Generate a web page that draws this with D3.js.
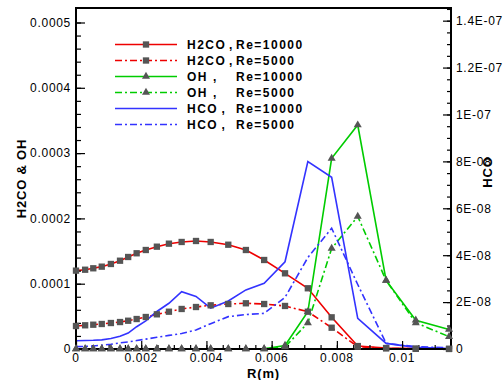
<!DOCTYPE html>
<html>
<head>
<meta charset="utf-8">
<script src="https://cdn.jsdelivr.net/npm/d3@7"></script>
<style>
  body { margin: 0; background: #fff; }
  svg { display: block; font-family: "Liberation Sans", Arial, sans-serif; }
  .tick-label { font-size: 12px; letter-spacing: 0.7px; fill: #000; }
  .title { font-size: 13px; font-weight: bold; fill: #000; letter-spacing: 0.8px; }
  .legend-text { font-size: 12px; font-weight: bold; letter-spacing: 1.5px; fill: #000; }
</style>
</head>
<body>
<div id="chart"></div>
<script>
// radial grid points (m)
const rGrid = [0, 0.00028, 0.00053, 0.00079, 0.00107, 0.00135, 0.0016, 0.00186,
  0.00214, 0.00248, 0.00285, 0.00324, 0.00368, 0.00413, 0.00467, 0.00521,
  0.00577, 0.00641, 0.00711, 0.00784, 0.00864, 0.00951, 0.01042, 0.01144];

const h2co10000 = [1.20e-4, 1.214e-4, 1.236e-4, 1.261e-4, 1.302e-4, 1.352e-4, 1.409e-4, 1.466e-4,
  1.516e-4, 1.567e-4, 1.613e-4, 1.639e-4, 1.654e-4, 1.639e-4, 1.597e-4, 1.516e-4,
  1.363e-4, 1.159e-4, 9.30e-5, 4.85e-5, 4.5e-6, 1.5e-6, 5e-7, 2e-7];
const h2co5000 = [3.52e-5, 3.63e-5, 3.72e-5, 3.83e-5, 3.98e-5, 4.13e-5, 4.33e-5, 4.59e-5,
  4.90e-5, 5.31e-5, 5.71e-5, 6.13e-5, 6.43e-5, 6.69e-5, 6.89e-5, 7.00e-5,
  6.89e-5, 6.59e-5, 5.71e-5, 3.26e-5, 3.5e-6, 1e-6, 3e-7, 1e-7];
const oh10000 = [0, 0, 0, 0, 0, 0, 0, 0, 0, 0, 0, 0, 0, 0, 0, 0,
  2e-7, 5.4e-6, 5.7e-5, 2.92e-4, 3.43e-4, 1.05e-4, 4.4e-5, 3.0e-5];
const oh5000 = [0, 0, 0, 0, 0, 0, 0, 0, 0, 0, 0, 0, 0, 0, 0, 0,
  0, 3e-6, 4.0e-5, 1.54e-4, 2.03e-4, 1.05e-4, 4.0e-5, 1.9e-5];
const hco10000 = [3.5e-9, 3.6e-9, 3.7e-9, 3.9e-9, 4.5e-9, 5.4e-9, 6.8e-9, 9.5e-9,
  1.2e-8, 1.6e-8, 1.95e-8, 2.44e-8, 2.24e-8, 1.74e-8, 2.05e-8, 2.52e-8,
  2.80e-8, 3.72e-8, 7.99e-8, 7.32e-8, 1.31e-8, 2.4e-9, 7e-10, 2e-10];
const hco5000 = [1.0e-9, 1.1e-9, 1.3e-9, 1.6e-9, 2.0e-9, 2.6e-9, 3.0e-9, 3.6e-9,
  4.2e-9, 5.0e-9, 5.8e-9, 6.6e-9, 8.1e-9, 1.08e-8, 1.38e-8, 1.47e-8,
  1.52e-8, 2.2e-8, 3.9e-8, 5.15e-8, 2.75e-8, 2.4e-9, 1.0e-9, 5e-10];

const leftTicks = [0, 0.0001, 0.0002, 0.0003, 0.0004, 0.0005];
const leftTickLabels = ["0", "0.0001", "0.0002", "0.0003", "0.0004", "0.0005"];
const rightTicks = [0, 2e-8, 4e-8, 6e-8, 8e-8, 1e-7, 1.2e-7, 1.4e-7];
const rightTickLabels = ["0", "2E-08", "4E-08", "6E-08", "8E-08", "1E-07", "1.2E-07", "1.4E-07"];
const xTicks = [0, 0.002, 0.004, 0.006, 0.008, 0.01];
const xTickLabels = ["0", "0.002", "0.004", "0.006", "0.008", "0.01"];

const series = [
  { name: "H2CO", re: "Re=10000", values: h2co10000, axis: "left", color: "#ee0000", dash: null, marker: "square" },
  { name: "H2CO", re: "Re=5000", values: h2co5000, axis: "left", color: "#ee0000", dash: "7,3,2,3", marker: "square" },
  { name: "OH", re: "Re=10000", values: oh10000, axis: "left", color: "#00cc00", dash: null, marker: "triangle" },
  { name: "OH", re: "Re=5000", values: oh5000, axis: "left", color: "#00cc00", dash: "7,3,2,3", marker: "triangle" },
  { name: "HCO", re: "Re=10000", values: hco10000, axis: "right", color: "#3333ff", dash: null, marker: null },
  { name: "HCO", re: "Re=5000", values: hco5000, axis: "right", color: "#3333ff", dash: "7,3,2,3", marker: null }
];
// where the comma after each species name sits in the legend
const commaX = { H2CO: 229, OH: 213, HCO: 221.5 };

const W = 504, H = 380;
const margin = { top: 8, right: 53, bottom: 31, left: 76 };
const width = W - margin.left - margin.right;
const height = H - margin.top - margin.bottom;

const svg = d3.select("#chart").append("svg")
  .attr("width", W)
  .attr("height", H);

const g = svg.append("g")
  .attr("transform", `translate(${margin.left},${margin.top})`);

const x = d3.scaleLinear().domain([0, 0.0115]).range([0, width]);
const yL = d3.scaleLinear().domain([0, 0.0005222]).range([height, 0]);
const yR = d3.scaleLinear().domain([0, 1.454e-7]).range([height, 0]);

// data lines
series.forEach(s => {
  const yScale = s.axis === "left" ? yL : yR;
  const pts = rGrid.map((r, i) => ({ x: r, y: s.values[i] }));
  g.append("path")
    .datum(pts)
    .attr("fill", "none")
    .attr("stroke", s.color)
    .attr("stroke-width", 1.6)
    .attr("stroke-dasharray", s.dash)
    .attr("d", d3.line().x(d => x(d.x)).y(d => yScale(d.y)));
});

// axes (ticks pointing inward)
g.append("g").attr("transform", `translate(0,${height})`)
  .call(d3.axisTop(x).tickValues(d3.range(0, 0.01151, 0.0005)).tickSize(4).tickFormat(""));
g.append("g").attr("transform", `translate(0,${height})`)
  .call(d3.axisTop(x).tickValues(xTicks).tickSize(8).tickFormat(""));
g.append("g")
  .call(d3.axisRight(yL).tickValues(d3.range(0, 0.00052, 0.00002)).tickSize(5).tickFormat(""));
g.append("g")
  .call(d3.axisRight(yL).tickValues(leftTicks).tickSize(9).tickFormat(""));
g.append("g").attr("transform", `translate(${width},0)`)
  .call(d3.axisLeft(yR).tickValues(d3.range(0, 1.451e-7, 5e-9)).tickSize(4).tickFormat(""));
g.append("g").attr("transform", `translate(${width},0)`)
  .call(d3.axisLeft(yR).tickValues(rightTicks).tickSize(8).tickFormat(""));
g.selectAll(".domain").remove();
g.selectAll(".tick line").attr("stroke", "#000").attr("stroke-width", 1.2);

// frame
g.append("rect")
  .attr("x", 0).attr("y", 0)
  .attr("width", width).attr("height", height)
  .attr("fill", "none")
  .attr("stroke", "#000")
  .attr("stroke-width", 2);

// tick labels
g.selectAll(".lt").data(leftTicks).enter().append("text")
  .attr("class", "tick-label")
  .attr("x", -5)
  .attr("y", d => yL(d))
  .attr("dy", "0.36em")
  .attr("text-anchor", "end")
  .text((d, i) => leftTickLabels[i]);
g.selectAll(".rt").data(rightTicks).enter().append("text")
  .attr("class", "tick-label")
  .attr("x", width + 5)
  .attr("y", d => yR(d))
  .attr("dy", "0.36em")
  .attr("text-anchor", "start")
  .text((d, i) => rightTickLabels[i]);
g.selectAll(".bt").data(xTicks).enter().append("text")
  .attr("class", "tick-label")
  .attr("x", d => x(d))
  .attr("y", height + 13)
  .attr("text-anchor", "middle")
  .text((d, i) => xTickLabels[i]);

// markers
const sym = { square: d3.symbolSquare, triangle: d3.symbolTriangle };
const symSize = { square: 40, triangle: 28 };
series.filter(s => s.marker).forEach(s => {
  g.selectAll(null).data(rGrid).enter().append("path")
    .attr("transform", (r, i) => `translate(${x(r)},${yL(s.values[i])})`)
    .attr("d", d3.symbol().type(sym[s.marker]).size(symSize[s.marker]))
    .attr("fill", "#555");
});

// axis titles
svg.append("text")
  .attr("class", "title")
  .attr("x", margin.left + width / 2)
  .attr("y", 378)
  .attr("text-anchor", "middle")
  .text("R(m)");
svg.append("text")
  .attr("class", "title")
  .attr("transform", `translate(26,${margin.top + height / 2}) rotate(-90)`)
  .attr("text-anchor", "middle")
  .text("H2CO & OH");
svg.append("text")
  .attr("class", "title")
  .attr("transform", `translate(492,172) rotate(-90)`)
  .attr("text-anchor", "middle")
  .text("HCO");

// legend
const legend = svg.append("g");
series.forEach((s, i) => {
  const ly = 44.5 + i * 16;
  legend.append("line")
    .attr("x1", 115).attr("x2", 177)
    .attr("y1", ly).attr("y2", ly)
    .attr("stroke", s.color)
    .attr("stroke-width", 1.6)
    .attr("stroke-dasharray", s.dash);
  if (s.marker) {
    legend.append("path")
      .attr("transform", `translate(146,${ly})`)
      .attr("d", d3.symbol().type(sym[s.marker]).size(symSize[s.marker]))
      .attr("fill", "#555");
  }
  legend.append("text")
    .attr("class", "legend-text")
    .attr("x", 187).attr("y", ly).attr("dy", "0.36em")
    .text(s.name);
  legend.append("text")
    .attr("class", "legend-text")
    .attr("x", commaX[s.name]).attr("y", ly).attr("dy", "0.36em")
    .text(",");
  legend.append("text")
    .attr("class", "legend-text")
    .attr("x", 236).attr("y", ly).attr("dy", "0.36em")
    .text(s.re);
});
</script>
</body>
</html>
